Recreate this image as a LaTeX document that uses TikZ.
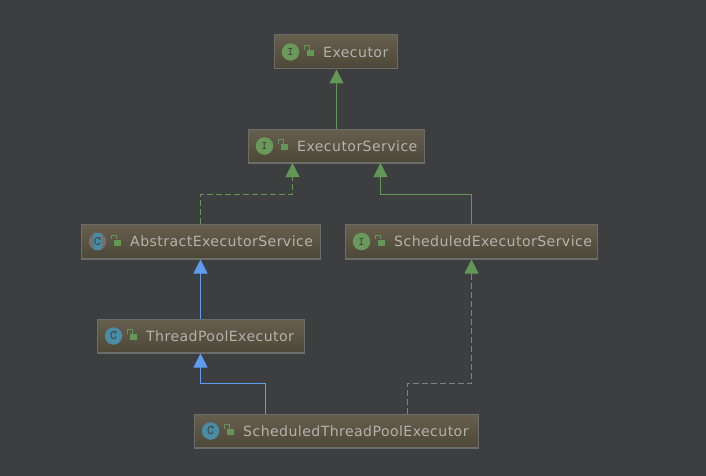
\documentclass[tikz,border=0pt]{standalone}
\usepackage{fontspec}
\setmainfont[LetterSpace=3]{DejaVu Sans}
\usetikzlibrary{arrows.meta}
\definecolor{canvas}{HTML}{3C3E40}
\definecolor{boxtop}{HTML}{675F4E}
\definecolor{boxbot}{HTML}{4D4737}
\definecolor{boxline}{HTML}{6C6C6A}
\definecolor{labelgrey}{HTML}{B2B2AE}
\definecolor{igreen}{HTML}{629755}
\definecolor{iconI}{HTML}{6A9A5B}
\definecolor{iconC}{HTML}{4A8BA6}
\definecolor{iconA}{HTML}{6E7072}
\definecolor{cblue}{HTML}{5C9DF0}
\definecolor{dashgrey}{HTML}{808080}
% one class box, its round icon, its lock and its name
\newcommand{\classbox}[8]{%
  \node[umlbox,minimum width=#4,minimum height=#5] (#1) at (#2,#3) {};
  \draw[boxline,line width=1pt] ([yshift=1]#1.south west) -- ([yshift=1]#1.south east);
  \node[#6] (#1Icon) at ([xshift=16.5]#1.west) {\textbf{#7}};
  \node[lockbox] (#1Lock) at ([xshift=20,yshift=-1]#1Icon.center) {};
  \draw[lockarc] ([xshift=-2.5]#1Lock.north west) -- ++(0,-4) -- ++(5,0) -- ++(0,4);
  \node[umllabel] (#1Label) at ([xshift=12.5,yshift=1]#1Lock.center) {#8};
}
\begin{document}
\begin{tikzpicture}[x=1pt,y=-1pt]
    \tikzset{
      umlbox/.style={draw=boxline,line width=1pt,top color=boxtop,bottom color=boxbot,inner sep=0pt},
      umllabel/.style={anchor=west,inner sep=0pt,text=labelgrey,font=\fontsize{14.1}{16}\selectfont},
      iconi/.style={circle,fill=iconI,minimum size=17.5pt,inner sep=0pt,text=black!75,font=\fontsize{11.5}{11}\ttfamily},
      iconc/.style={circle,fill=iconC,minimum size=17.5pt,inner sep=0pt,text=black!75,font=\fontsize{13}{12}\ttfamily},
      icona/.style={iconc,fill=iconA,path picture={\fill[iconC] ([xshift=-4]path picture bounding box.south) rectangle ([xshift=4]path picture bounding box.north);}},
      lockbox/.style={fill=igreen,minimum width=7pt,minimum height=6pt,inner sep=0pt},
      lockarc/.style={draw=igreen,line width=1pt},
      extends/.style={line width=1pt,-{Triangle[length=14pt,width=14pt]}},
      dashline/.style={dash pattern=on 6pt off 3pt},
    }
    \useasboundingbox (0,0) rectangle (706,476);
    \fill[canvas] (0,0) rectangle (706,476);

    \classbox{executor}{336}{52}{123pt}{34pt}{iconi}{I}{Executor}
    \classbox{service}{336.25}{146}{175.5pt}{34pt}{iconi}{I}{ExecutorService}
    \classbox{abstract}{201}{241.5}{239pt}{35pt}{icona}{C}{AbstractExecutorService}
    \classbox{scheduled}{471.5}{241.5}{252pt}{35pt}{iconi}{I}{ScheduledExecutorService}
    \classbox{pool}{200.75}{336}{206.5pt}{34pt}{iconc}{C}{ThreadPoolExecutor}
    \classbox{stpe}{336.25}{431}{283.5pt}{34pt}{iconc}{C}{ScheduledThreadPoolExecutor}

    % bends of the connectors
    \coordinate (trunk) at (336.5,100);
    \coordinate (serviceInA) at (292.5,163);
    \coordinate (serviceInB) at (380.5,163);
    \coordinate (stpeOutA) at (265.5,414);
    \coordinate (stpeOutB) at (407.5,414);
    \coordinate (bendA) at (200.5,194);
    \coordinate (bendB) at (471.5,194);
    \coordinate (bendC) at (265.5,383);
    \coordinate (bendD) at (407.5,383);
    \coordinate (tailE) at (471.5,273);

    \draw[extends,igreen] (service.north -| trunk) -- (executor.south -| trunk);
    \draw[extends,igreen,dashline] (abstract.north -| bendA) -- (bendA) -- (bendA -| serviceInA) -- (serviceInA);
    \draw[extends,igreen] (scheduled.north) -- (bendB) -- (bendB -| serviceInB) -- (serviceInB);
    \draw[extends,cblue] (pool.north -| bendA) -- (abstract.south -| bendA);
    \draw[extends,cblue] (stpeOutA) -- (bendC) -- (bendC -| bendA) -- (pool.south -| bendA);
    \draw[line width=1pt,dashgrey,dashline] (stpeOutB) -- (bendD) -- (bendD -| tailE) -- (tailE);
    \draw[extends,igreen] (tailE) -- (scheduled.south);
\end{tikzpicture}
\end{document}
